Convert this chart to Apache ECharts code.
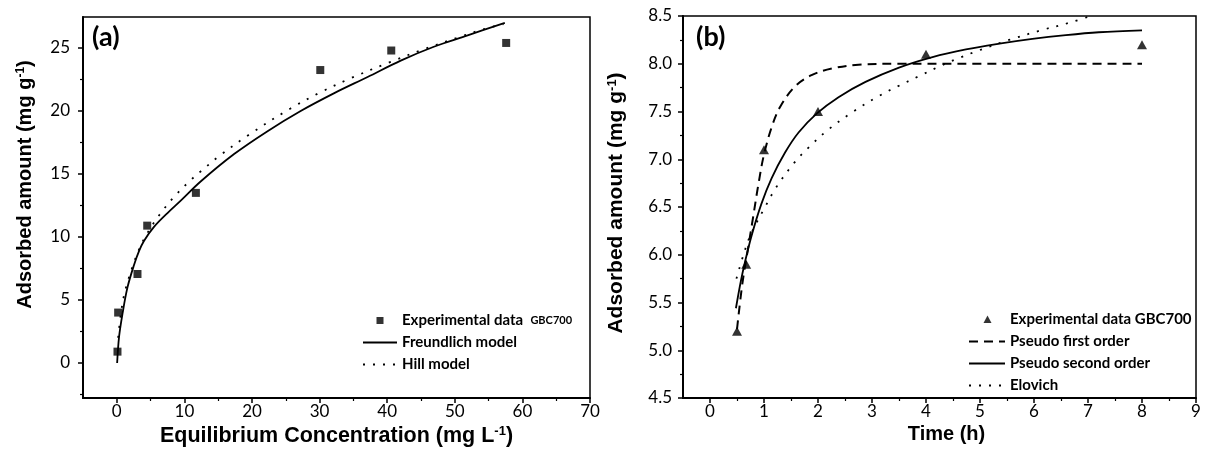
<!DOCTYPE html>
<html><head><meta charset="utf-8">
<script src="https://cdn.jsdelivr.net/npm/echarts@6/dist/echarts.min.js"></script>
<style>html,body{margin:0;padding:0;background:#fff}#c{width:1206px;height:461px}</style>
</head><body><div id="c"></div>
<script>
// ---------- Panel (a): isotherm ----------
const expA = [[0.1,0.9],[0.2,4.0],[3.06,7.06],[4.5,10.9],[11.7,13.5],[30.1,23.25],[40.6,24.8],[57.6,25.4]];
const freundlichA = [[0.05,0],[0.34,2.1],[0.84,3.9],[1.58,6.0],[2.56,7.8],[3.3,8.9],[4.04,9.7],[5.5,10.8],[7.5,11.9],[9.5,12.9],[12.4,14.4],[17.4,16.6],[22.3,18.4],[27.2,20.0],[32.1,21.4],[37.1,22.7],[42,24.0],[46.9,25.1],[51.9,26.0],[57.4,27.0]];
const hillA = [[0.2,2.0],[0.6,3.9],[1.08,5.4],[1.58,6.4],[2.3,7.6],[3.2,8.9],[4.4,10.2],[6.3,11.75],[8.5,13.2],[10.9,14.5],[12.4,15.2],[15.1,16.4],[19.5,18.1],[25.7,20.2],[30.2,21.5],[34.6,22.6],[40.5,23.9],[45.4,24.9],[50.3,25.8],[54.3,26.5],[57.2,26.9]];
const aXMajor = [0,10,20,30,40,50,60,70];
const aXMinor = [5,15,25,35,45,55,65];
const aYMajor = [0,5,10,15,20,25];
const aYMinor = [-2.5,2.5,7.5,12.5,17.5,22.5];
const aXRange = [-5,70];
const aYRange = [-2.78,27.46];

// ---------- Panel (b): kinetics ----------
const expB = [[0.5,5.2],[0.67,5.9],[1,7.1],[2,7.5],[4,8.1],[8,8.2]];
const pfoB = [[0.5,5.22],[0.6,5.7],[0.7,6.05],[0.8,6.4],[0.9,6.75],[1.0,7.05],[1.15,7.35],[1.3,7.55],[1.57,7.76],[1.88,7.88],[2.26,7.95],[2.75,7.99],[3.5,8.0],[5,8.0],[8,8.0]];
const psoB = [[0.48,5.44],[0.57,5.72],[0.65,5.93],[0.77,6.2],[0.95,6.53],[1.14,6.8],[1.39,7.07],[1.64,7.28],[1.98,7.48],[2.38,7.65],[2.88,7.81],[3.5,7.96],[4.12,8.07],[4.74,8.15],[5.36,8.21],[5.97,8.26],[6.59,8.3],[7.2,8.33],[8.0,8.35]];
const elovichB = [[0.49,5.75],[0.62,6.0],[0.76,6.22],[1.02,6.5],[1.23,6.71],[1.57,6.97],[1.82,7.12],[2.19,7.31],[2.63,7.49],[3.12,7.66],[3.5,7.77],[3.87,7.87],[4.24,7.97],[4.61,8.06],[4.98,8.14],[5.54,8.25],[6.13,8.35],[6.66,8.43],[7.05,8.5]];
const bXMajor = [0,1,2,3,4,5,6,7,8,9];
const bXMinor = [0.5,1.5,2.5,3.5,4.5,5.5,6.5,7.5,8.5];
const bYMajor = [4.5,5.0,5.5,6.0,6.5,7.0,7.5,8.0,8.5];
const bYMinor = [4.75,5.25,5.75,6.25,6.75,7.25,7.75,8.25];
const bXRange = [-0.5,9];
const bYRange = [4.5,8.5];

const namesA = ['Experimental data  GBC700','Freundlich model','Hill model'];
const namesB = ['Experimental data GBC700','Pseudo first order','Pseudo second order','Elovich'];

// ---------- styling ----------
const BLACK = '#000';
const TICKFONT = 'Lato';
const TITLEFONT = 'Liberation Sans';
function mainAxis(grid, pos, range, ticks, fmt, margin, extra) {
  return Object.assign({
    gridIndex: grid, type: 'value', position: pos, min: range[0], max: range[1],
    axisLine: {show: true, onZero: false, lineStyle: {color: BLACK, width: 2}},
    axisTick: {show: true, inside: false, length: 5, customValues: ticks, lineStyle: {color: BLACK, width: 1.5}},
    axisLabel: {show: true, customValues: ticks, margin: margin, color: BLACK, fontSize: 17, fontFamily: TICKFONT, formatter: fmt},
    splitLine: {show: false}
  }, extra || {});
}
function minorAxis(grid, pos, range, ticks) {
  return {
    gridIndex: grid, type: 'value', position: pos, min: range[0], max: range[1],
    axisLine: {show: false, onZero: false},
    axisTick: {show: true, inside: false, length: 3, customValues: ticks, lineStyle: {color: BLACK, width: 1.2}},
    axisLabel: {show: false}, splitLine: {show: false}
  };
}
function titleStyle(size, pad) {
  return {color: BLACK, fontSize: size, fontWeight: 'bold', fontFamily: TITLEFONT, padding: pad,
    rich: {sup: {fontSize: Math.round(size * 0.6), fontWeight: 'bold', fontFamily: TITLEFONT, verticalAlign: 'top', color: BLACK}}};
}
const yName = 'Adsorbed amount (mg g{sup|-1})';
const hideIcon = {color: 'rgba(0,0,0,0)', borderWidth: 0};
const sqIcon = 'path://M0,0M34,0M34,12M0,12M13.5,2.5L20.5,2.5L20.5,9.5L13.5,9.5Z';
const triIcon = 'path://M0,0M36,0M36,12M0,12M18.5,2L22.5,9.5L14.5,9.5Z';
const legendText = {color: BLACK, fontSize: 15, fontWeight: 'bold', fontFamily: TICKFONT,
  rich: {s: {fontSize: 11, fontWeight: 'bold', fontFamily: TICKFONT, color: BLACK}}};
const dotted = [2, 8];
const dashed = [9, 6];
const SMOOTH = 0.35;

const option = {
  animation: false,
  backgroundColor: '#fff',
  title: [
    {text: '(a)', left: 92, top: 24, padding: 0, textStyle: {fontSize: 27, fontWeight: 'bold', fontFamily: TICKFONT, color: BLACK}},
    {text: '(b)', left: 696, top: 24, padding: 0, textStyle: {fontSize: 27, fontWeight: 'bold', fontFamily: TICKFONT, color: BLACK}}
  ],
  grid: [
    {left: 83, top: 17, right: 616, bottom: 63, show: true, borderColor: BLACK, borderWidth: 1.5, backgroundColor: 'transparent'},
    {left: 683, top: 16, right: 10, bottom: 63, show: true, borderColor: BLACK, borderWidth: 1.5, backgroundColor: 'transparent'}
  ],
  xAxis: [
    mainAxis(0, 'bottom', aXRange, aXMajor, v => String(v), 5, {name: 'Equilibrium Concentration (mg L{sup|-1})', nameLocation: 'middle', nameGap: 16, nameTextStyle: titleStyle(21.5, [0, 0, 0, 0])}),
    minorAxis(0, 'bottom', aXRange, aXMinor),
    mainAxis(1, 'bottom', bXRange, bXMajor, v => String(v), 5, {name: 'Time (h)', nameLocation: 'middle', nameGap: 19, nameTextStyle: titleStyle(20, [0, 0, 0, 14])}),
    minorAxis(1, 'bottom', bXRange, bXMinor)
  ],
  yAxis: [
    mainAxis(0, 'left', aYRange, aYMajor, v => String(v), 13, {name: yName, nameLocation: 'middle', nameRotate: 90, nameGap: 48, nameTextStyle: titleStyle(20, [0, 0, 0, 46])}),
    minorAxis(0, 'left', aYRange, aYMinor),
    mainAxis(1, 'left', bYRange, bYMajor, v => Number(v).toFixed(1), 11, {name: yName, nameLocation: 'middle', nameRotate: 90, nameGap: 56, nameTextStyle: titleStyle(21, [0, 0, 0, 8])}),
    minorAxis(1, 'left', bYRange, bYMinor)
  ],
  legend: [
    {orient: 'vertical', left: 362, top: 313, itemWidth: 34, itemHeight: 12, itemGap: 7, selectedMode: false,
     textStyle: legendText, padding: 0,
     formatter: n => n.indexOf('GBC700') >= 0 ? 'Experimental data  {s|GBC700}' : n,
     data: [{name: namesA[0], icon: sqIcon}, {name: namesA[1], itemStyle: hideIcon}, {name: namesA[2], itemStyle: hideIcon}]},
    {orient: 'vertical', left: 968, top: 312, itemWidth: 36, itemHeight: 12, itemGap: 7, selectedMode: false,
     textStyle: legendText, padding: 0,
     data: [{name: namesB[0], icon: triIcon}, {name: namesB[1], itemStyle: hideIcon}, {name: namesB[2], itemStyle: hideIcon}, {name: namesB[3], itemStyle: hideIcon}]}
  ],
  series: [
    {name: namesA[1], type: 'line', xAxisIndex: 0, yAxisIndex: 0, data: freundlichA, symbol: 'none', smooth: SMOOTH,
     lineStyle: {color: BLACK, width: 1.8}, itemStyle: {color: BLACK}, z: 3},
    {name: namesA[2], type: 'line', xAxisIndex: 0, yAxisIndex: 0, data: hillA, symbol: 'none', smooth: SMOOTH,
     lineStyle: {color: BLACK, width: 1.8, type: dotted}, itemStyle: {color: BLACK}, z: 3},
    {name: namesA[0], type: 'scatter', xAxisIndex: 0, yAxisIndex: 0, data: expA, symbol: 'rect', symbolSize: 8,
     itemStyle: {color: BLACK}, z: 5},
    {name: namesB[1], type: 'line', xAxisIndex: 2, yAxisIndex: 2, data: pfoB, symbol: 'none', smooth: SMOOTH,
     lineStyle: {color: BLACK, width: 2, type: dashed}, itemStyle: {color: BLACK}, z: 3},
    {name: namesB[2], type: 'line', xAxisIndex: 2, yAxisIndex: 2, data: psoB, symbol: 'none', smooth: SMOOTH,
     lineStyle: {color: BLACK, width: 1.8}, itemStyle: {color: BLACK}, z: 3},
    {name: namesB[3], type: 'line', xAxisIndex: 2, yAxisIndex: 2, data: elovichB, symbol: 'none', smooth: SMOOTH,
     lineStyle: {color: BLACK, width: 1.8, type: dotted}, itemStyle: {color: BLACK}, z: 3},
    {name: namesB[0], type: 'scatter', xAxisIndex: 2, yAxisIndex: 2, data: expB, symbol: 'triangle', symbolSize: [10, 9],
     itemStyle: {color: BLACK}, z: 5}
  ]
};
const chart = echarts.init(document.getElementById('c'), null, {renderer: 'canvas'});
chart.setOption(option);
</script>
</body></html>
